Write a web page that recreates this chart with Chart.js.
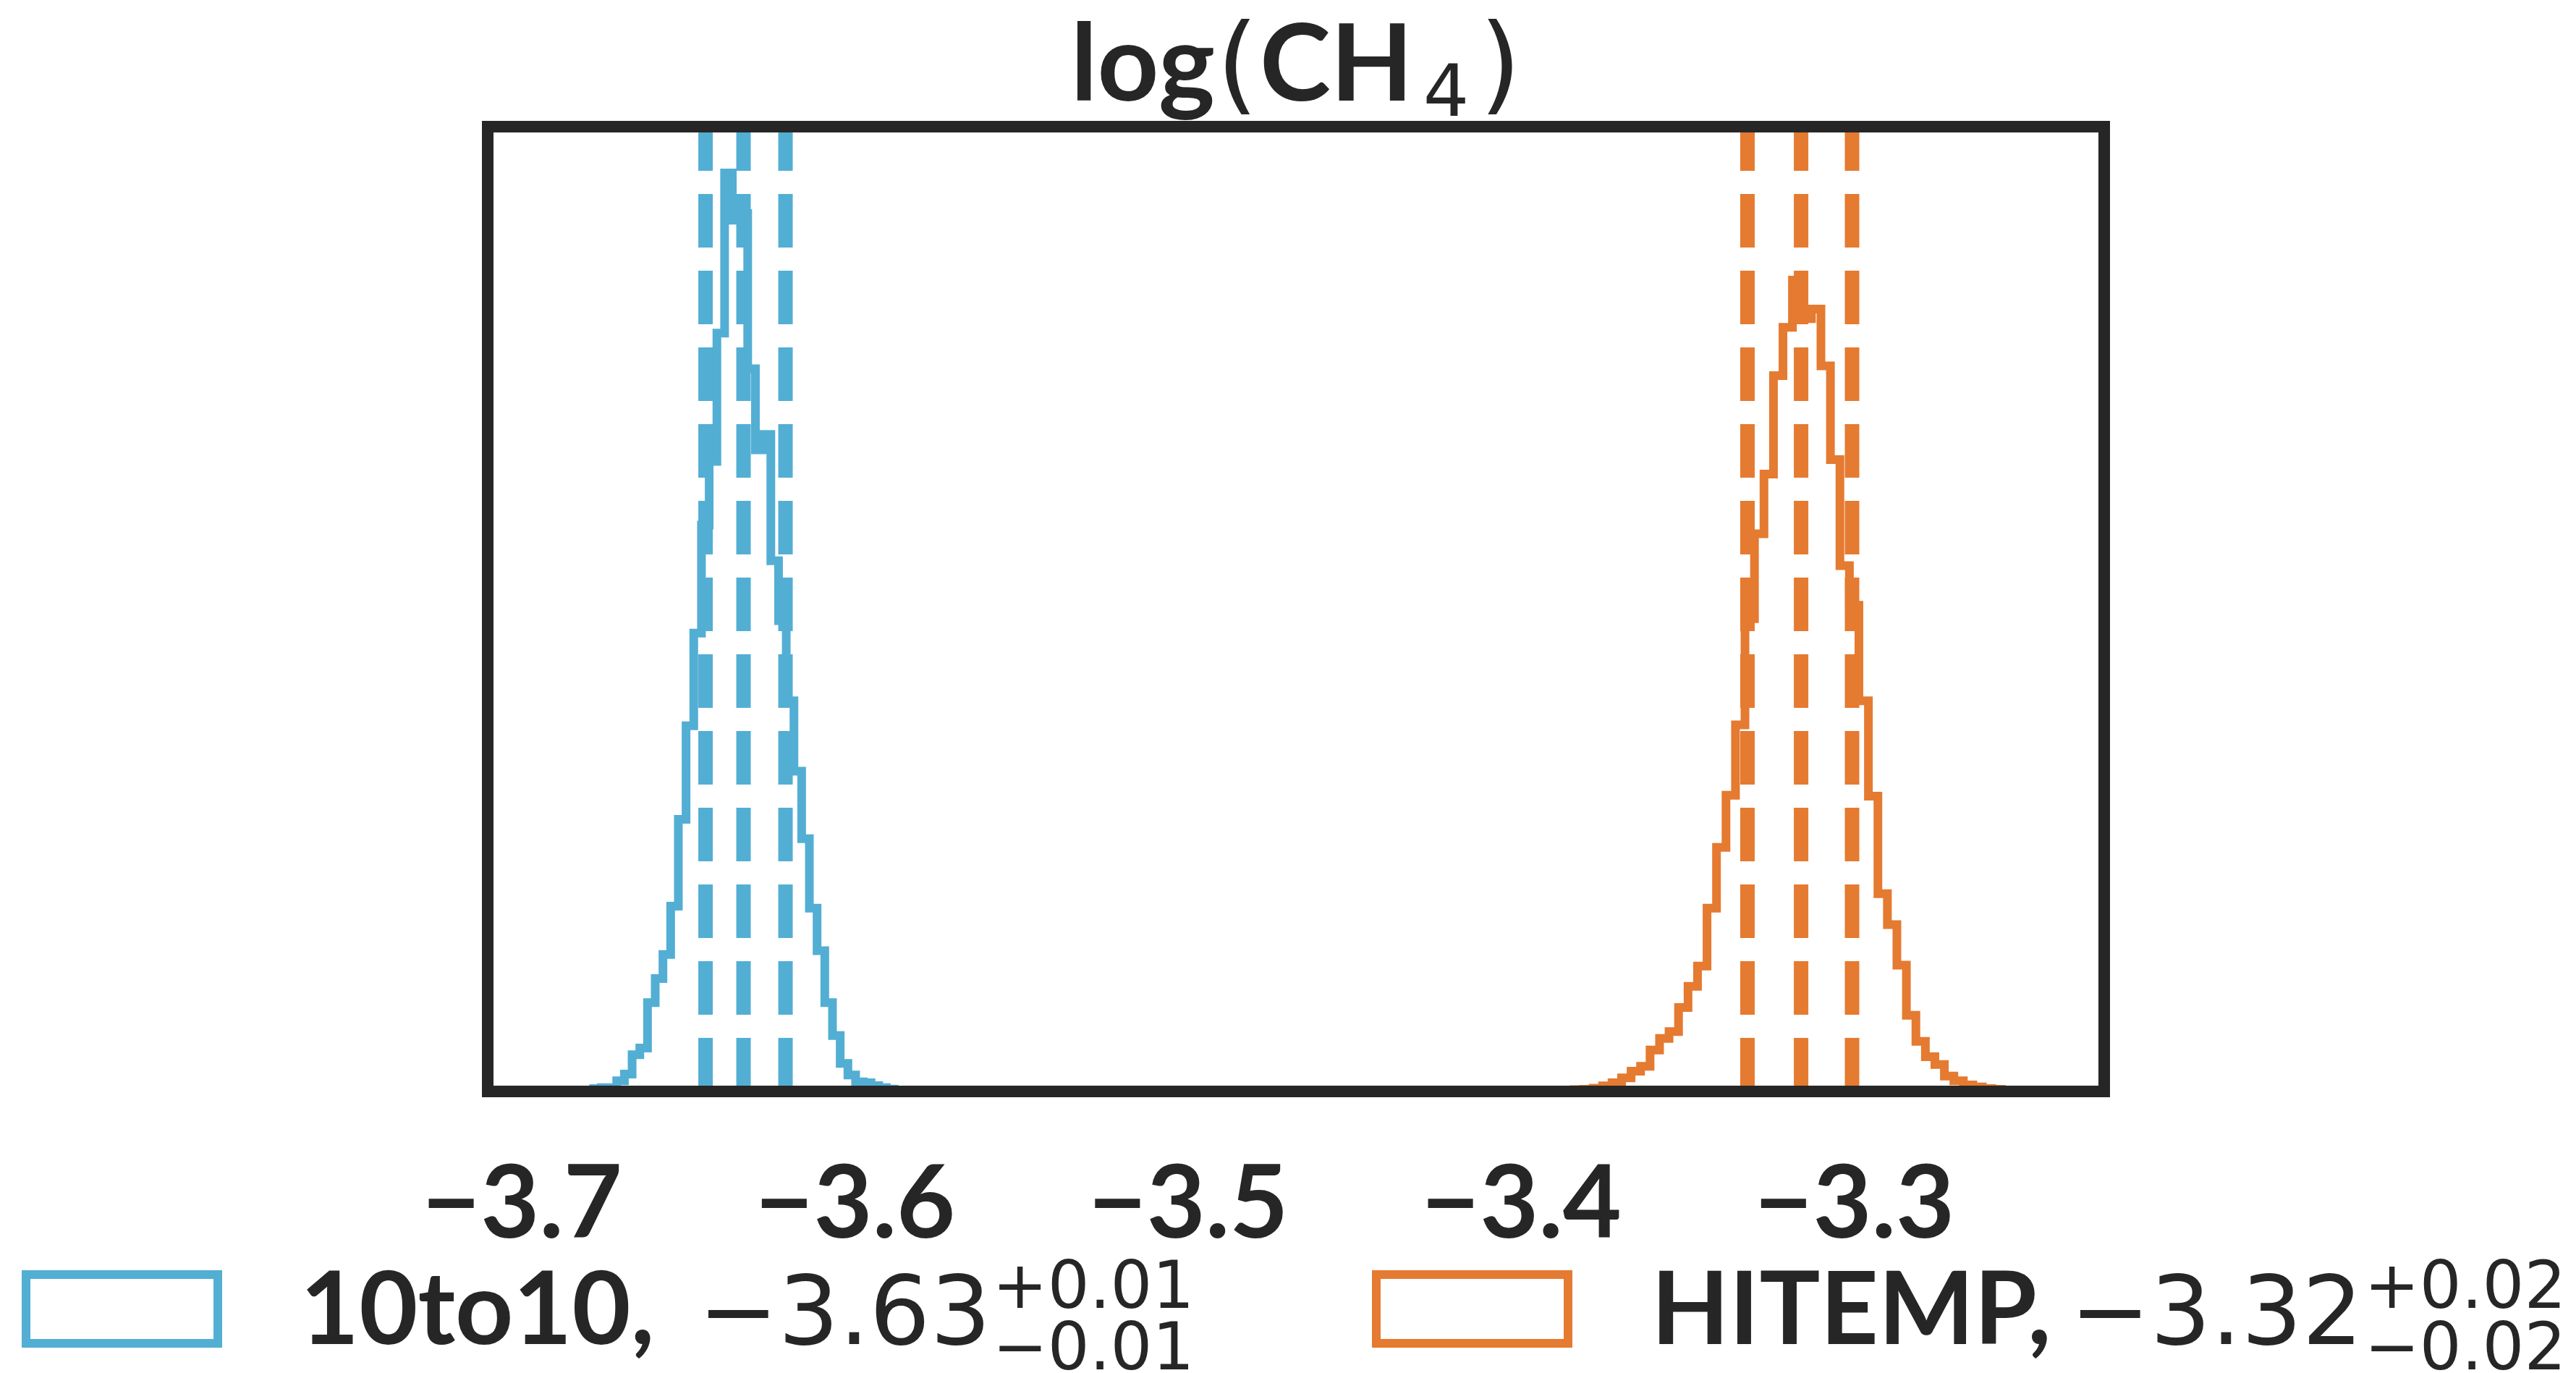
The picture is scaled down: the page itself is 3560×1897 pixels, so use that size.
<!DOCTYPE html>
<html>
<head>
<meta charset="utf-8">
<script src="https://cdn.jsdelivr.net/npm/chart.js"></script>
<style>
  html, body { margin: 0; padding: 0; background: #ffffff; }
  canvas { display: block; }
</style>
</head>
<body>
<canvas id="posterior" width="3560" height="1897"></canvas>
<script>
// x axis
const tickValues = [-3.7, -3.6, -3.5, -3.4, -3.3];
const xRange = [-3.7103, -3.2250];

// legend entries
const names = ['10to10', 'HITEMP'];
const colors = ['#53aed4', '#e57a31'];
const medians = [-3.63, -3.32];
const errPlus = [0.01, 0.02];
const errMinus = [0.01, 0.02];

// step histograms: first bin edge, bin width, bin heights (% of axis height)
const blueStart = -3.68083;
const blueWidth = 0.0023137;
const blueHeights = [0.15, 0.3, 0.4, 0.4, 1.1, 1.8, 3.8, 4.5, 9.2, 11.7, 14.2, 19.2, 28.2, 37.9,
  47.5, 58.7, 65.3, 78.6, 95.2, 90.3, 91.0, 74.9, 66.5, 68.1, 55.0, 48.8, 40.5, 33.2, 26.2,
  19.0, 14.6, 9.2, 5.8, 2.9, 1.7, 1.0, 0.9, 0.6, 0.4, 0.25, 0.15];

const orangeStart = -3.38415;
const orangeWidth = 0.0028503;
const orangeHeights = [0.19, 0.22, 0.34, 0.58, 0.9, 1.4, 2.1, 2.6, 4.3, 5.5, 6.2, 8.7, 10.9, 13.0,
  19.0, 25.3, 30.7, 38.0, 49.0, 57.8, 64.0, 74.2, 79.2, 84.1, 80.1, 81.1, 75.2, 65.5, 54.5,
  50.4, 40.5, 30.6, 20.5, 17.3, 13.1, 7.9, 5.2, 3.6, 2.8, 1.6, 1.1, 0.67, 0.46, 0.3, 0.22];

// 16th / 50th / 84th percentiles
const blueQuantiles = [-3.6449, -3.6335, -3.6209];
const orangeQuantiles = [-3.3321, -3.3160, -3.3007];

const ink = '#262626';
const font = 'Lato';
const mathFont = '"DejaVu Sans"';

function stepPoints(start, width, heights) {
  const pts = [{x: start, y: 0}];
  heights.forEach((h, i) => pts.push({x: start + i * width, y: h}));
  pts.push({x: start + heights.length * width, y: 0});
  return pts;
}

function histSet(start, width, heights, color) {
  return {
    data: stepPoints(start, width, heights),
    stepped: true,
    borderColor: color,
    borderWidth: 12,
    borderJoinStyle: 'miter',
    pointRadius: 0,
    fill: false,
    clip: 0
  };
}

function quantileSet(v, color) {
  return {
    data: [{x: v, y: 0}, {x: v, y: 100}],
    borderColor: color,
    borderWidth: 20,
    borderDash: [74, 32],
    borderCapStyle: 'butt',
    pointRadius: 0,
    fill: false,
    clip: 0
  };
}

const datasets = [
  histSet(blueStart, blueWidth, blueHeights, colors[0]),
  histSet(orangeStart, orangeWidth, orangeHeights, colors[1])
];
blueQuantiles.forEach(v => datasets.push(quantileSet(v, colors[0])));
orangeQuantiles.forEach(v => datasets.push(quantileSet(v, colors[1])));

// frame around the axes
const framePlugin = {
  id: 'frame',
  afterDatasetsDraw(chart) {
    const a = chart.chartArea;
    const ctx = chart.ctx;
    ctx.save();
    ctx.strokeStyle = ink;
    ctx.lineWidth = 16;
    ctx.lineJoin = 'miter';
    ctx.strokeRect(a.left, a.top, a.right - a.left, a.bottom - a.top);
    ctx.restore();
  }
};

// title log(CH4) with subscript
const titlePlugin = {
  id: 'mathTitle',
  afterDraw(chart) {
    const ctx = chart.ctx;
    const a = chart.chartArea;
    const parts = [
      {t: 'log', f: 'bold 148px ' + font, dy: 0, gap: 2},
      {t: '(', f: '148px ' + mathFont, dy: 0, gap: 2},
      {t: 'CH', f: 'bold 148px ' + font, dy: 0, gap: 14},
      {t: '4', f: '100px ' + mathFont, dy: 21, gap: 14},
      {t: ')', f: '148px ' + mathFont, dy: 0, gap: 0}
    ];
    ctx.save();
    ctx.fillStyle = ink;
    ctx.textBaseline = 'alphabetic';
    let total = 0;
    parts.forEach(p => { ctx.font = p.f; p.w = ctx.measureText(p.t).width; total += p.w + p.gap; });
    let x = (a.left + a.right) / 2 - total / 2;
    parts.forEach(p => {
      ctx.font = p.f;
      ctx.fillText(p.t, x, 139 + p.dy);
      x += p.w + p.gap;
    });
    ctx.restore();
  }
};

// legend with median and +/- errors
const legendPlugin = {
  id: 'statLegend',
  afterDraw(chart) {
    const ctx = chart.ctx;
    const boxLeft = [36, 1902];
    const textLeft = [415, 2282];
    const medLeft = [965, 2861];
    ctx.save();
    names.forEach((name, i) => {
      ctx.strokeStyle = colors[i];
      ctx.lineWidth = 12;
      ctx.strokeRect(boxLeft[i], 1761, 265, 95);
      ctx.fillStyle = ink;
      ctx.textBaseline = 'alphabetic';
      ctx.font = 'bold 140px ' + font;
      ctx.fillText(name + ',', textLeft[i], 1857);
      ctx.font = '132px ' + mathFont;
      const med = (medians[i] < 0 ? '\u2212' : '') + Math.abs(medians[i]).toFixed(2);
      ctx.fillText(med, medLeft[i], 1857);
      const x = medLeft[i] + ctx.measureText(med).width + 2;
      ctx.font = '91px ' + mathFont;
      ctx.fillText('+' + errPlus[i].toFixed(2), x, 1807);
      ctx.fillText('\u2212' + errMinus[i].toFixed(2), x, 1892);
    });
    ctx.restore();
  }
};

new Chart(document.getElementById('posterior'), {
  type: 'line',
  data: { datasets: datasets },
  options: {
    responsive: false,
    animation: false,
    devicePixelRatio: 1,
    layout: { padding: { left: 674, right: 652, top: 175, bottom: 0 } },
    plugins: { legend: { display: false }, title: { display: false }, tooltip: { enabled: false } },
    scales: {
      x: {
        type: 'linear',
        min: xRange[0],
        max: xRange[1],
        grid: { display: false, drawTicks: false },
        border: { display: false },
        afterBuildTicks: (scale) => { scale.ticks = tickValues.map(v => ({value: v})); },
        afterFit: (scale) => { scale.height = 389; },
        ticks: {
          autoSkip: false,
          maxRotation: 0,
          padding: 87,
          color: ink,
          font: { family: font, size: 140, weight: 'bold', lineHeight: 1 },
          callback: (v) => (v < 0 ? '\u2212' : '') + Math.abs(v).toFixed(1)
        }
      },
      y: { display: false, min: 0, max: 100 }
    }
  },
  plugins: [framePlugin, titlePlugin, legendPlugin]
});
</script>
</body>
</html>
